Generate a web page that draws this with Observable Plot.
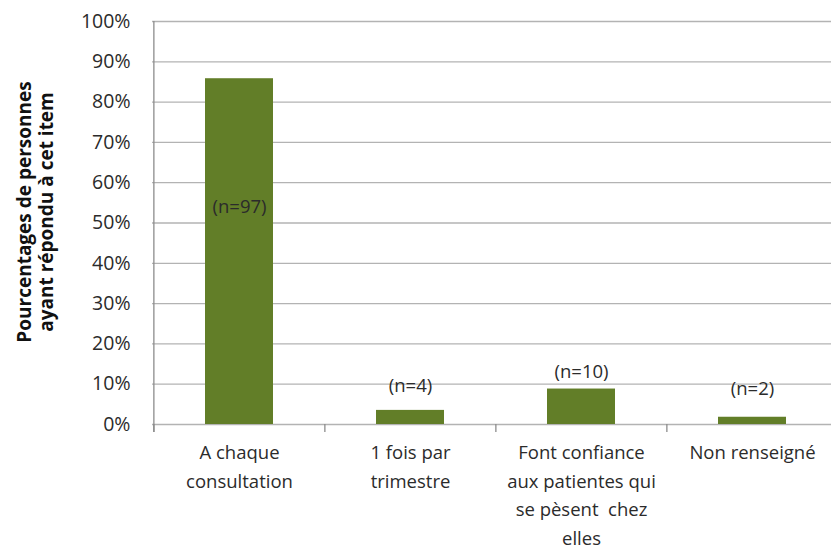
<!DOCTYPE html>
<html>
<head>
<meta charset="utf-8">
<script src="https://cdn.jsdelivr.net/npm/d3@7"></script>
<script src="https://cdn.jsdelivr.net/npm/@observablehq/plot@0.6"></script>
<style>
  html, body { margin: 0; padding: 0; background: #fff; }
  svg { overflow: visible; }
</style>
</head>
<body>
<div id="chart"></div>
<script>
const categories = [
  "A chaque\nconsultation",
  "1 fois par\ntrimestre",
  "Font confiance\naux patientes qui\nse pèsent  chez\nelles",
  "Non renseigné"
];
const percentages = [85.8, 3.5, 8.8, 1.8];
const labels = ["(n=97)", "(n=4)", "(n=10)", "(n=2)"];
const labelAt = [54, 9.6, 13, 8.8];
const yTicks = [0, 10, 20, 30, 40, 50, 60, 70, 80, 90, 100];
const titleLines = ["Pourcentages de personnes", "ayant répondu à cet item"];

const data = categories.map((c, i) => ({cat: c, value: percentages[i], label: labels[i], at: labelAt[i]}));

const font = "'Open Sans', Lato, sans-serif";
const x0 = 153, x1 = 838;
const step = (x1 - x0) / categories.length;

const chart = Plot.plot({
  width: 831,
  height: 551,
  marginLeft: 152,
  marginRight: 0,
  marginTop: 21,
  marginBottom: 127,
  style: {fontFamily: font, background: "#fff", overflow: "visible"},
  x: {domain: categories, range: [x0, x1], paddingInner: 0.6, paddingOuter: 0.3, axis: null},
  y: {domain: [0, 100], axis: null},
  marks: [
    Plot.ruleY(yTicks, {stroke: "#b3b3b3", strokeWidth: 1.3}),
    Plot.tickY(yTicks, {y: d => d, x: categories[0], dx: -(step * 0.5) - 3, stroke: "#8c8c8c", strokeWidth: 1.3}),
    Plot.ruleX(categories, {x: d => d, y1: -2, y2: 0, dx: -step / 2, stroke: "#8c8c8c", strokeWidth: 1.3}),
    Plot.ruleX([categories[0]], {x: d => d, y1: -2, y2: 100, dx: -step / 2, stroke: "#8c8c8c", strokeWidth: 1.3}),
    Plot.barY(data, {x: "cat", y: "value", fill: "#627e28"}),
    Plot.text(yTicks, {
      y: d => d, frameAnchor: "left", text: d => d + "%", textAnchor: "end", dx: -22,
      fontSize: 19.5, fill: "#2b2b2b"
    }),
    Plot.text(data, {
      x: "cat", y: "at", text: "label", fontSize: 18.5, fill: "#2b2b2b"
    }),
    Plot.text(data, {
      x: "cat", frameAnchor: "bottom", text: "cat", lineAnchor: "top", dy: 14,
      lineHeight: 1.55, fontSize: 18.5, fill: "#2b2b2b"
    }),
    Plot.text([titleLines[0]], {
      frameAnchor: "left", textAnchor: "middle", text: d => d, rotate: -90, dx: -128, dy: -11, fontSize: 19,
      fontWeight: "bold", fill: "#111"
    }),
    Plot.text([titleLines[1]], {
      frameAnchor: "left", textAnchor: "middle", text: d => d, rotate: -90, dx: -106, dy: -11, fontSize: 19,
      fontWeight: "bold", fill: "#111"
    })
  ]
});
document.getElementById("chart").appendChild(chart);
</script>
</body>
</html>
